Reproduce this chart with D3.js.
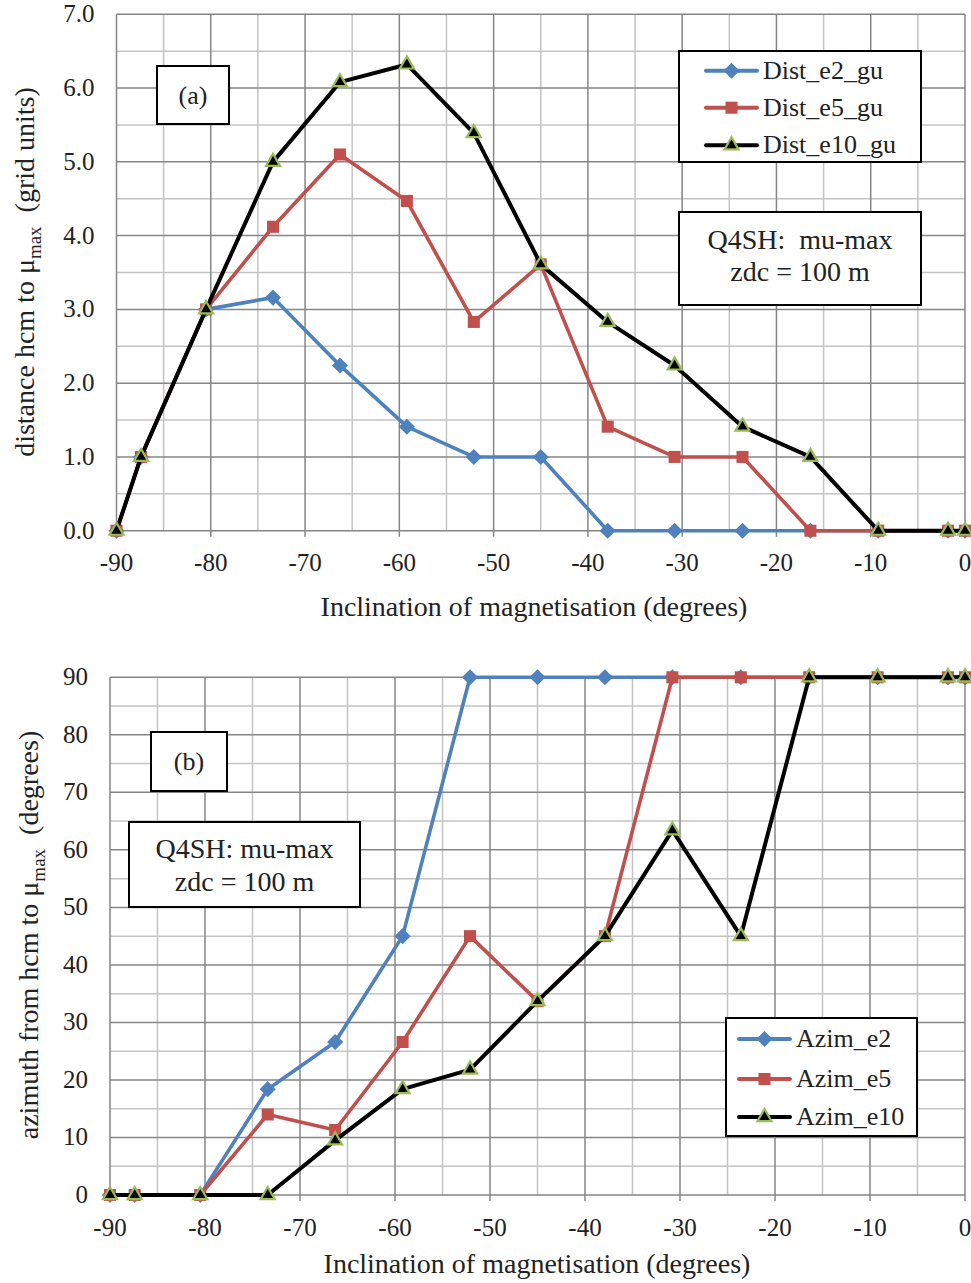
<!DOCTYPE html>
<html>
<head>
<meta charset="utf-8">
<script src="https://cdn.jsdelivr.net/npm/d3@7/dist/d3.min.js"></script>
<style>
  html, body { margin: 0; padding: 0; background: #fff; }
  svg text { font-family: "Liberation Serif", "Times New Roman", serif; fill: #222; }
</style>
</head>
<body>
<svg id="fig" width="971" height="1283"></svg>
<script>
// Inclination of magnetisation (degrees), shared by both panels
const inclination = [-90, -87.4, -80.5, -73.4, -66.3, -59.2, -52.1, -45.0, -37.9, -30.8, -23.6, -16.4, -9.2, -1.8, 0];

// Panel (a): distance hcm to mu-max, grid units
const distE2  = [0, 1, 3, 3.16, 2.24, 1.41, 1.0, 1.0, 0, 0, 0, 0, 0, 0, 0];
const distE5  = [0, 1, 3, 4.12, 5.10, 4.47, 2.83, 3.61, 1.41, 1.0, 1.0, 0, 0, 0, 0];
const distE10 = [0, 1, 3, 5.0, 6.08, 6.32, 5.39, 3.61, 2.83, 2.24, 1.41, 1.0, 0, 0, 0];

// Panel (b): azimuth from hcm to mu-max, degrees
const azimE2  = [0, 0, 0, 18.4, 26.6, 45, 90, 90, 90, 90, 90, 90, 90, 90, 90];
const azimE5  = [0, 0, 0, 14.0, 11.3, 26.6, 45, 33.7, 45, 90, 90, 90, 90, 90, 90];
const azimE10 = [0, 0, 0, 0, 9.5, 18.4, 21.8, 33.7, 45, 63.4, 45, 90, 90, 90, 90];

const distNames = ["Dist_e2_gu", "Dist_e5_gu", "Dist_e10_gu"];
const azimNames = ["Azim_e2", "Azim_e5", "Azim_e10"];

const xTicks = [-90, -80, -70, -60, -50, -40, -30, -20, -10, 0];
const distTicks = [0, 1, 2, 3, 4, 5, 6, 7];
const azimTicks = [0, 10, 20, 30, 40, 50, 60, 70, 80, 90];

const FONT = "Liberation Serif, Times New Roman, serif";

const styles = [
  { color: "#4F81BD", marker: "diamond", width: 3.6 },
  { color: "#C0504D", marker: "square", width: 3.6 },
  { color: "#000000", marker: "triangle", width: 4 }
];

const svg = d3.select("#fig");

function markerPath(kind) {
  if (kind === "diamond") return d3.symbol(d3.symbolDiamond2, 165)();
  if (kind === "square") return d3.symbol(d3.symbolSquare2, 185)();
  return d3.symbol(d3.symbolTriangle2, 140)();
}
function styleMarker(sel, st) {
  if (st.marker === "triangle") {
    sel.attr("fill", "#000").attr("stroke", "#9BBB59").attr("stroke-width", 2.2);
  } else {
    sel.attr("fill", st.color).attr("stroke", "none");
  }
}

function panel(cfg) {
  const g = svg.append("g").attr("font-family", FONT);
  const x = d3.scaleLinear().domain([-90, 0]).range(cfg.xr);
  const y = d3.scaleLinear().domain(cfg.yd).range(cfg.yr);

  // minor grid
  const minorX = d3.range(-85, 0, 10);
  g.append("g").selectAll("line").data(minorX).join("line")
    .attr("x1", d => x(d)).attr("x2", d => x(d))
    .attr("y1", cfg.yr[0]).attr("y2", cfg.yr[1])
    .attr("stroke", "#c4c4c4").attr("stroke-width", 1.5);
  g.append("g").selectAll("line").data(cfg.minorY).join("line")
    .attr("x1", cfg.xr[0]).attr("x2", cfg.xr[1])
    .attr("y1", d => y(d)).attr("y2", d => y(d))
    .attr("stroke", "#c4c4c4").attr("stroke-width", 1.5);
  // major grid, with short ticks below the x axis
  g.append("g").selectAll("line").data(xTicks).join("line")
    .attr("x1", d => x(d)).attr("x2", d => x(d))
    .attr("y1", cfg.yr[0] + 6).attr("y2", cfg.yr[1])
    .attr("stroke", "#868686").attr("stroke-width", 1.5);
  g.append("g").selectAll("line").data(cfg.yTicks).join("line")
    .attr("x1", cfg.xr[0]).attr("x2", cfg.xr[1])
    .attr("y1", d => y(d)).attr("y2", d => y(d))
    .attr("stroke", "#868686").attr("stroke-width", 1.5);

  // tick labels
  g.append("g").selectAll("text").data(xTicks).join("text")
    .attr("x", d => x(d)).attr("y", cfg.yr[0] + cfg.xLabOff)
    .attr("text-anchor", "middle").attr("font-size", 25)
    .text(d => d);
  g.append("g").selectAll("text").data(cfg.yTicks).join("text")
    .attr("x", cfg.xr[0] - cfg.yLabGap).attr("y", d => y(d) + 8)
    .attr("text-anchor", "end").attr("font-size", 25)
    .text(cfg.yFmt);

  // series
  cfg.series.forEach((vals, i) => {
    const st = styles[i];
    const pts = inclination.map((v, k) => [v, vals[k]]);
    g.append("path").datum(pts)
      .attr("fill", "none").attr("stroke", st.color)
      .attr("stroke-width", st.width).attr("stroke-linejoin", "round")
      .attr("d", d3.line().x(d => x(d[0])).y(d => y(d[1])));
    g.append("g").selectAll("path").data(pts).join("path")
      .attr("transform", d => `translate(${x(d[0])},${y(d[1])})`)
      .attr("d", markerPath(st.marker))
      .call(styleMarker, st);
  });

  // axis titles
  g.append("text").attr("x", cfg.xTitle[0]).attr("y", cfg.xTitle[1])
    .attr("text-anchor", "middle").attr("font-size", 28)
    .text("Inclination of magnetisation (degrees)");

  const yt = g.append("text")
    .attr("transform", `translate(${cfg.yTitle[0]},${cfg.yTitle[1]}) rotate(-90)`)
    .attr("text-anchor", "middle").attr("font-size", 28);
  yt.append("tspan").text(cfg.yTitleA);
  yt.append("tspan").attr("font-size", 19).attr("dy", 7).text("max");
  yt.append("tspan").attr("dy", -7).text("\u00a0\u00a0" + cfg.yTitleB);

  // annotation boxes
  cfg.boxes.forEach(b => {
    g.append("rect").attr("x", b.x).attr("y", b.y).attr("width", b.w).attr("height", b.h)
      .attr("fill", "#fff").attr("stroke", "#000").attr("stroke-width", 2);
    b.lines.forEach((t, k) => {
      g.append("text").attr("x", b.x + b.w / 2).attr("y", b.ly[k])
        .attr("text-anchor", "middle").attr("font-size", b.fs)
        .style("white-space", "pre").text(t);
    });
  });

  // legend
  const L = cfg.legend;
  g.append("rect").attr("x", L.x).attr("y", L.y).attr("width", L.w).attr("height", L.h)
    .attr("fill", "#fff").attr("stroke", "#000").attr("stroke-width", 2);
  cfg.names.forEach((n, i) => {
    const st = styles[i];
    const cy = L.rows[i];
    g.append("line").attr("x1", L.lx0).attr("x2", L.lx1).attr("y1", cy).attr("y2", cy)
      .attr("stroke", st.color).attr("stroke-width", 4).attr("stroke-linecap", "round");
    g.append("path").attr("transform", `translate(${(L.lx0 + L.lx1) / 2},${cy})`)
      .attr("d", markerPath(st.marker)).call(styleMarker, st);
    g.append("text").attr("x", L.tx).attr("y", cy + 8).attr("font-size", 26).text(n);
  });
}

panel({
  xr: [116.5, 965], yd: [0, 7], yr: [530.7, 14.3],
  yTicks: distTicks, minorY: d3.range(0.5, 7, 1),
  yFmt: d => d3.format(".1f")(d), yLabGap: 22, xLabOff: 40,
  series: [distE2, distE5, distE10], names: distNames,
  xTitle: [534, 616],
  yTitle: [34, 272], yTitleA: "distance hcm to \u03bc", yTitleB: "(grid units)",
  boxes: [
    { x: 157, y: 66, w: 72, h: 58, lines: ["(a)"], ly: [104], fs: 26 },
    { x: 679, y: 212, w: 242, h: 93, lines: ["Q4SH:  mu-max", "zdc = 100 m"], ly: [249, 281], fs: 28 }
  ],
  legend: { x: 679, y: 51, w: 242, h: 111, rows: [70.7, 107.7, 145.3], lx0: 706, lx1: 757, tx: 763 }
});

panel({
  xr: [110, 965], yd: [0, 90], yr: [1195, 677.3],
  yTicks: azimTicks, minorY: d3.range(5, 90, 10),
  yFmt: d => d, yLabGap: 22, xLabOff: 41,
  series: [azimE2, azimE5, azimE10], names: azimNames,
  xTitle: [537, 1273],
  yTitle: [38, 935], yTitleA: "azimuth from hcm to \u03bc", yTitleB: "(degrees)",
  boxes: [
    { x: 151, y: 732, w: 76, h: 59, lines: ["(b)"], ly: [770], fs: 26 },
    { x: 129, y: 822, w: 231, h: 85, lines: ["Q4SH: mu-max", "zdc = 100 m"], ly: [858, 891], fs: 28 }
  ],
  legend: { x: 726, y: 1018, w: 191, h: 118, rows: [1039, 1079, 1117], lx0: 739, lx1: 790, tx: 796 }
});
</script>
</body>
</html>
